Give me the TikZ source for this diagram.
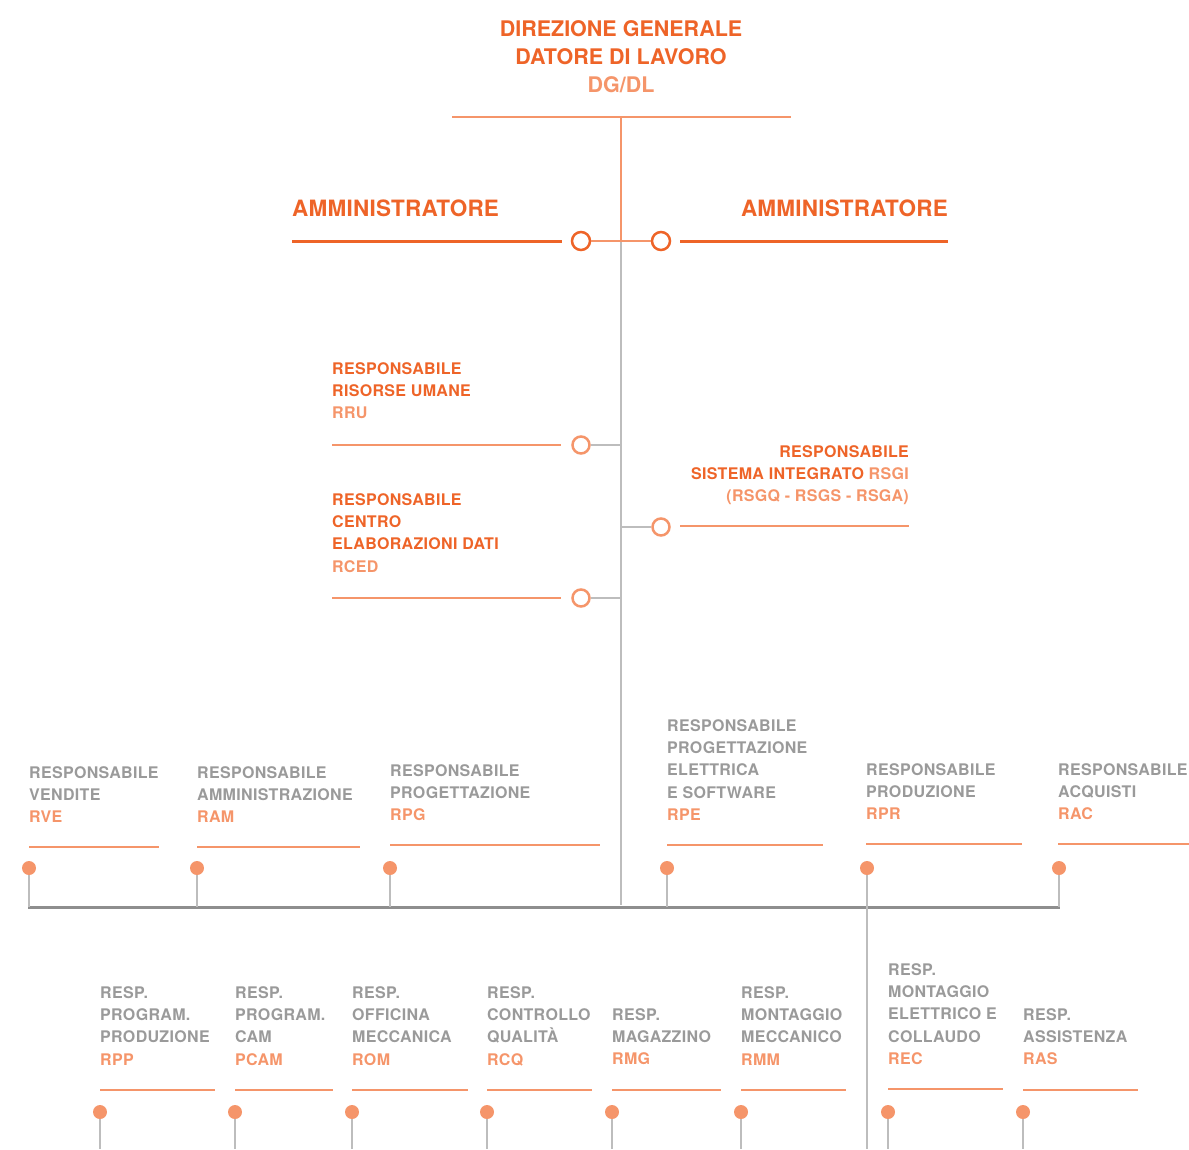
\documentclass[tikz,border=0pt]{standalone}
\usepackage{fontspec}
\setmainfont{TeX Gyre Heros}
\newfontfamily\smallfam[LetterSpace=2]{TeX Gyre Heros}
\newfontfamily\bigfam[LetterSpace=1]{TeX Gyre Heros}
\definecolor{dor}{HTML}{EE6428}
\definecolor{lor}{HTML}{F5956A}
\definecolor{gtx}{HTML}{9A9A9A}
\definecolor{gln}{HTML}{BDBDBD}
\definecolor{gdk}{HTML}{8E8E8E}
\begin{document}
\begin{tikzpicture}[x=1pt,y=-1pt,
 small/.style={font=\smallfam\fontsize{16}{22.4}\selectfont\bfseries, inner sep=0, align=left, anchor=north west},
 glbl/.style={small, text=gtx},
 olbl/.style={small, text=dor},
 big/.style={font=\bigfam\fontsize{22.5}{27}\selectfont\bfseries, inner sep=0, text=dor},
 uline/.style={lor, line width=2.5pt},
 aline/.style={dor, line width=3pt},
 gconn/.style={gln, line width=2.5pt},
 ring/.style={circle, draw=lor, line width=2.5pt, fill=white, minimum size=17pt, inner sep=0},
 aring/.style={ring, draw=dor, minimum size=18pt},
 dot/.style={circle, fill=lor, minimum size=14pt, inner sep=0},
]
\useasboundingbox (0,0) rectangle (1189,1149);

% ---------- top ----------
\node[font=\fontsize{21.5}{28}\selectfont\bfseries, align=center, inner sep=0, anchor=north, text=dor] (dg) at (621,20)
  {DIREZIONE GENERALE\\DATORE DI LAVORO\\\textcolor{lor}{DG/DL}};
\coordinate (tl) at (452,117);
\coordinate (tr) at (791,117);
\draw[uline] (tl) -- (tr);
\coordinate (vtop) at (621,117);
\coordinate (vmid) at (621,241);
\coordinate (vbot) at (621,905);
\draw[lor, line width=2.5pt] (vtop) -- (vmid);
\draw[gconn] (vmid) -- (vbot);

% ---------- amministratori ----------
\node[big, anchor=north west] (adl) at (292,200) {AMMINISTRATORE};
\node[big, anchor=north east] (adr) at (948,200) {AMMINISTRATORE};
\coordinate (al1) at (292,241); \coordinate (al2) at (562,241);
\coordinate (ar1) at (680,241); \coordinate (ar2) at (948,241);
\draw[aline] (al1) -- (al2);
\draw[aline] (ar1) -- (ar2);
\node[aring] (cl) at (581,241) {};
\node[aring] (cr) at (661,241) {};
\draw[lor, line width=2pt] (cl) -- (cr);

% ---------- RRU ----------
\node[olbl] (rru) at (332,362) {RESPONSABILE\\RISORSE UMANE\\\textcolor{lor}{RRU}};
\coordinate (rru1) at (332,445); \coordinate (rru2) at (561,445);
\draw[uline] (rru1) -- (rru2);
\node[ring] (crru) at (581,445) {};
\coordinate (jrru) at (621,445);
\draw[gconn] (crru) -- (jrru);

% ---------- RCED ----------
\node[olbl] (rced) at (332,493) {RESPONSABILE\\CENTRO\\ELABORAZIONI DATI\\\textcolor{lor}{RCED}};
\coordinate (rced1) at (332,598); \coordinate (rced2) at (561,598);
\draw[uline] (rced1) -- (rced2);
\node[ring] (crced) at (581,598) {};
\coordinate (jrced) at (621,598);
\draw[gconn] (crced) -- (jrced);

% ---------- RSGI ----------
\node[olbl, anchor=north east, align=right] (rsgi) at (909,445)
  {RESPONSABILE\\SISTEMA INTEGRATO \textcolor{lor}{RSGI}\\\textcolor{lor}{(RSGQ - RSGS - RSGA)}};
\coordinate (rsgi1) at (680,526); \coordinate (rsgi2) at (909,526);
\draw[uline] (rsgi1) -- (rsgi2);
\node[ring] (crsgi) at (661,527) {};
\coordinate (jrsgi) at (621,527);
\draw[gconn] (jrsgi) -- (crsgi);

% ---------- row 1 ----------
\coordinate (h1) at (28,907); \coordinate (h2) at (1060,907);
\draw[gdk, line width=3pt] (h1) -- (h2);

\node[glbl] (rve) at (29,766) {RESPONSABILE\\VENDITE\\\textcolor{lor}{RVE}};
\draw[uline] (29,847) -- (159,847);
\node[dot] (d1) at (29,868) {}; \coordinate (b1) at (29,907);
\draw[gconn] (d1) -- (b1);

\node[glbl] (ram) at (197,766) {RESPONSABILE\\AMMINISTRAZIONE\\\textcolor{lor}{RAM}};
\draw[uline] (197,847) -- (360,847);
\node[dot] (d2) at (197,868) {}; \coordinate (b2) at (197,907);
\draw[gconn] (d2) -- (b2);

\node[glbl] (rpg) at (390,764) {RESPONSABILE\\PROGETTAZIONE\\\textcolor{lor}{RPG}};
\draw[uline] (390,845) -- (600,845);
\node[dot] (d3) at (390,868) {}; \coordinate (b3) at (390,907);
\draw[gconn] (d3) -- (b3);

\node[glbl] (rpe) at (667,719) {RESPONSABILE\\PROGETTAZIONE\\ELETTRICA\\E SOFTWARE\\\textcolor{lor}{RPE}};
\draw[uline] (667,845) -- (823,845);
\node[dot] (d4) at (667,868) {}; \coordinate (b4) at (667,907);
\draw[gconn] (d4) -- (b4);

\node[glbl] (rpr) at (866,763) {RESPONSABILE\\PRODUZIONE\\\textcolor{lor}{RPR}};
\draw[uline] (866,844) -- (1022,844);
\node[dot] (d5) at (867,868) {}; \coordinate (b5) at (867,1149);
\draw[gconn] (d5) -- (b5);

\node[glbl] (rac) at (1058,763) {RESPONSABILE\\ACQUISTI\\\textcolor{lor}{RAC}};
\draw[uline] (1058,844) -- (1189,844);
\node[dot] (d6) at (1059,868) {}; \coordinate (b6) at (1059,907);
\draw[gconn] (d6) -- (b6);

% ---------- row 2 ----------
\node[glbl] (rpp) at (100,986) {RESP.\\PROGRAM.\\PRODUZIONE\\\textcolor{lor}{RPP}};
\draw[uline] (100,1090) -- (215,1090);
\node[dot] (e1) at (100,1112) {}; \coordinate (f1) at (100,1149);
\draw[gconn] (e1) -- (f1);

\node[glbl] (pcam) at (235,986) {RESP.\\PROGRAM.\\CAM\\\textcolor{lor}{PCAM}};
\draw[uline] (235,1090) -- (333,1090);
\node[dot] (e2) at (235,1112) {}; \coordinate (f2) at (235,1149);
\draw[gconn] (e2) -- (f2);

\node[glbl] (rom) at (352,986) {RESP.\\OFFICINA\\MECCANICA\\\textcolor{lor}{ROM}};
\draw[uline] (352,1090) -- (468,1090);
\node[dot] (e3) at (352,1112) {}; \coordinate (f3) at (352,1149);
\draw[gconn] (e3) -- (f3);

\node[glbl] (rcq) at (487,986) {RESP.\\CONTROLLO\\QUALITÀ\\\textcolor{lor}{RCQ}};
\draw[uline] (487,1090) -- (592,1090);
\node[dot] (e4) at (487,1112) {}; \coordinate (f4) at (487,1149);
\draw[gconn] (e4) -- (f4);

\node[glbl] (rmg) at (612,1008) {RESP.\\MAGAZZINO\\\textcolor{lor}{RMG}};
\draw[uline] (612,1090) -- (721,1090);
\node[dot] (e5) at (612,1112) {}; \coordinate (f5) at (612,1149);
\draw[gconn] (e5) -- (f5);

\node[glbl] (rmm) at (741,986) {RESP.\\MONTAGGIO\\MECCANICO\\\textcolor{lor}{RMM}};
\draw[uline] (741,1090) -- (846,1090);
\node[dot] (e6) at (741,1112) {}; \coordinate (f6) at (741,1149);
\draw[gconn] (e6) -- (f6);

\node[glbl] (rec) at (888,963) {RESP.\\MONTAGGIO\\ELETTRICO E\\COLLAUDO\\\textcolor{lor}{REC}};
\draw[uline] (888,1089) -- (1003,1089);
\node[dot] (e7) at (888,1112) {}; \coordinate (f7) at (888,1149);
\draw[gconn] (e7) -- (f7);

\node[glbl] (ras) at (1023,1008) {RESP.\\ASSISTENZA\\\textcolor{lor}{RAS}};
\draw[uline] (1023,1090) -- (1138,1090);
\node[dot] (e8) at (1023,1112) {}; \coordinate (f8) at (1023,1149);
\draw[gconn] (e8) -- (f8);
\end{tikzpicture}
\end{document}
